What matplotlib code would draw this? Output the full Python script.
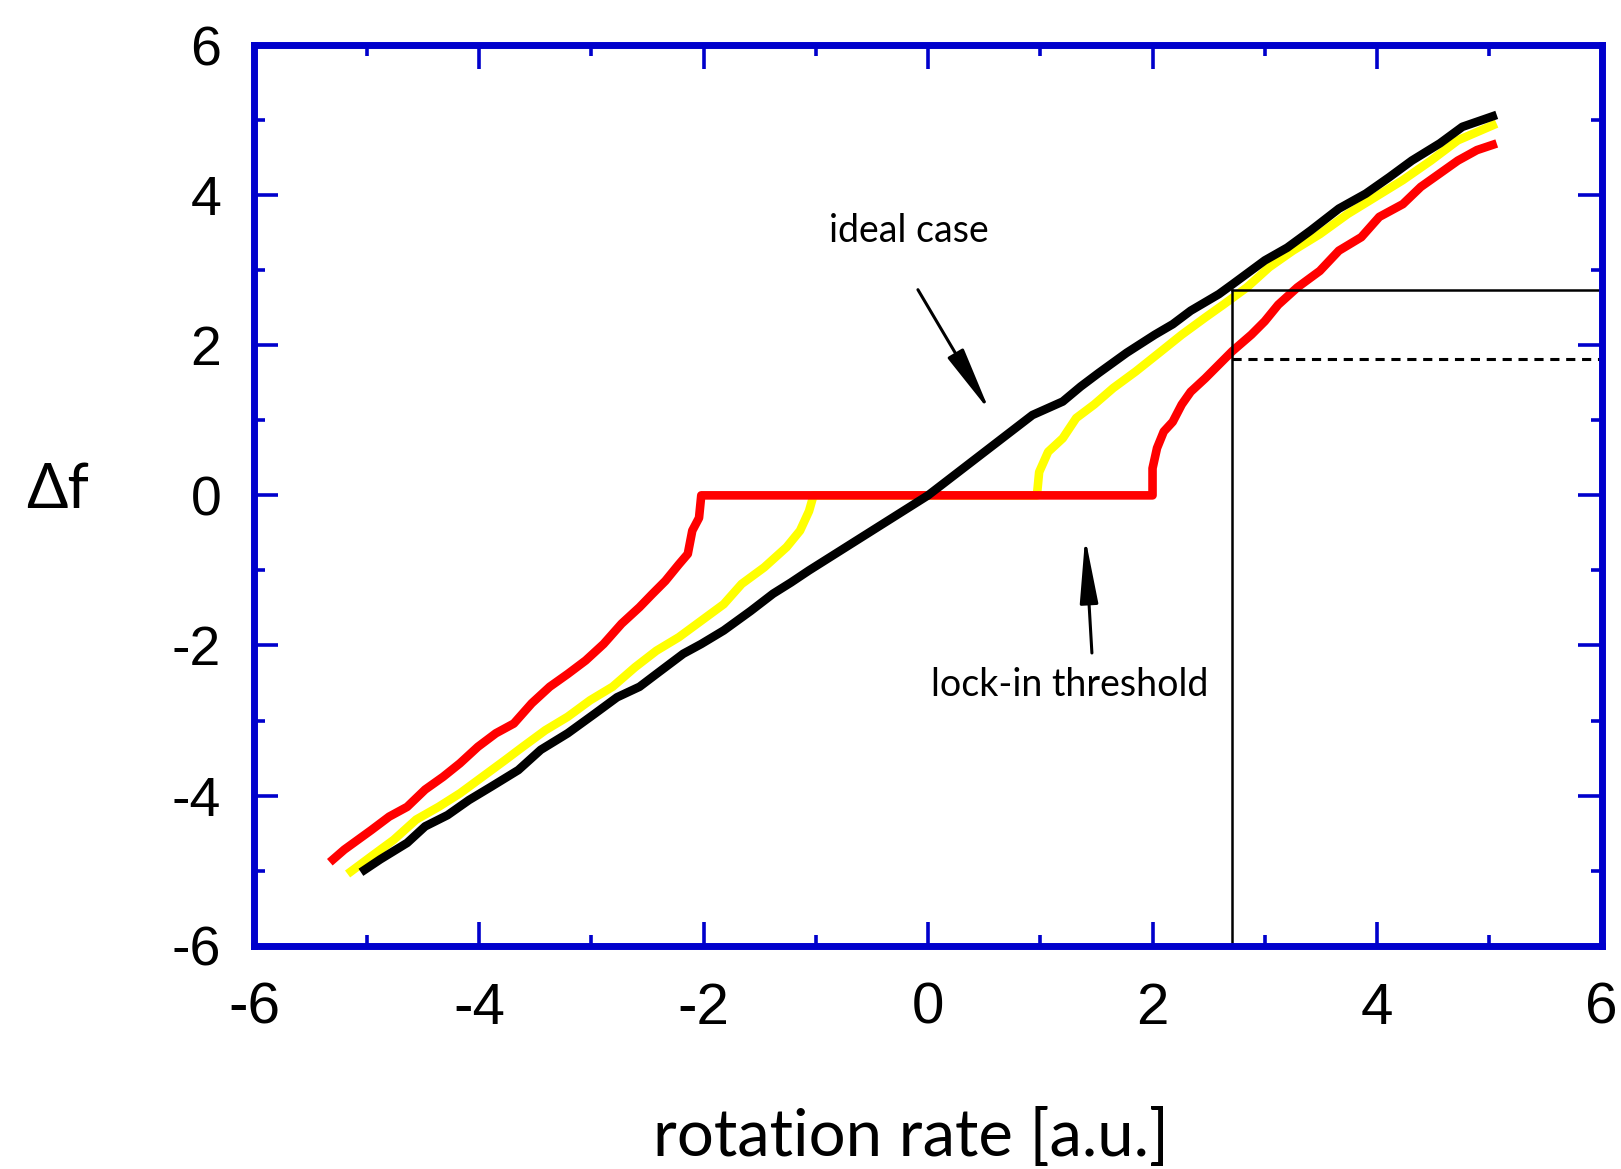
import matplotlib
matplotlib.use("Agg")
import matplotlib.pyplot as plt
from matplotlib.ticker import MultipleLocator

plt.rcParams["axes.unicode_minus"] = False

# beat frequency vs rotation rate
ideal_x = [-5.02, -4.88, -4.64, -4.48, -4.28, -4.09, -3.89, -3.65, -3.45, -3.21,
           -2.97, -2.77, -2.57, -2.42, -2.18, -2.02, -1.82, -1.58, -1.38, -1.22,
           -1.06, 0.0, 0.93, 1.20, 1.36, 1.52, 1.77, 2.02, 2.18, 2.34,
           2.59, 2.71, 3.00, 3.20, 3.41, 3.66, 3.90, 4.11, 4.31, 4.56,
           4.76, 5.03]
ideal_y = [-4.99, -4.85, -4.63, -4.41, -4.26, -4.06, -3.88, -3.66, -3.39, -3.17,
           -2.91, -2.69, -2.55, -2.38, -2.11, -1.98, -1.80, -1.54, -1.31, -1.16,
           -1.00, 0.0, 1.07, 1.25, 1.45, 1.63, 1.90, 2.14, 2.28, 2.46,
           2.68, 2.81, 3.13, 3.30, 3.53, 3.82, 4.02, 4.24, 4.46, 4.69,
           4.91, 5.05]

weak_x = [-5.14, -4.96, -4.76, -4.56, -4.36, -4.17, -3.97, -3.77, -3.61, -3.41,
          -3.21, -3.01, -2.81, -2.61, -2.42, -2.22, -2.02, -1.82, -1.66, -1.46,
          -1.26, -1.14, -1.06, -1.02, 0.97, 0.99, 1.07, 1.20, 1.32, 1.48,
          1.65, 1.85, 2.06, 2.26, 2.47, 2.63, 2.84, 3.04, 3.25, 3.49,
          3.74, 3.98, 4.23, 4.48, 4.72, 5.03]
weak_y = [-5.01, -4.81, -4.59, -4.32, -4.15, -3.97, -3.75, -3.53, -3.35, -3.13,
          -2.95, -2.73, -2.55, -2.29, -2.07, -1.89, -1.67, -1.45, -1.18, -0.96,
          -0.69, -0.47, -0.21, 0.0, 0.0, 0.31, 0.58, 0.76, 1.03, 1.21,
          1.43, 1.65, 1.90, 2.14, 2.37, 2.54, 2.77, 3.04, 3.26, 3.48,
          3.75, 3.97, 4.20, 4.46, 4.73, 4.93]

strong_x = [-5.30, -5.20, -5.08, -4.96, -4.80, -4.64, -4.48, -4.32, -4.17, -4.01,
            -3.85, -3.69, -3.53, -3.37, -3.21, -3.05, -2.89, -2.73, -2.57, -2.46,
            -2.34, -2.22, -2.14, -2.10, -2.04, -2.02, 2.00, 2.00, 2.04, 2.10,
            2.18, 2.26, 2.34, 2.47, 2.59, 2.71, 2.88, 3.00, 3.12, 3.29,
            3.49, 3.66, 3.86, 4.02, 4.23, 4.39, 4.56, 4.72, 4.89, 5.03]
strong_y = [-4.85, -4.72, -4.59, -4.46, -4.28, -4.15, -3.92, -3.75, -3.57, -3.35,
            -3.17, -3.04, -2.77, -2.55, -2.38, -2.20, -1.98, -1.71, -1.49, -1.32,
            -1.14, -0.92, -0.78, -0.47, -0.30, 0.0, 0.0, 0.36, 0.63, 0.85,
            0.98, 1.21, 1.38, 1.56, 1.74, 1.92, 2.14, 2.32, 2.54, 2.77,
            2.99, 3.26, 3.44, 3.71, 3.88, 4.11, 4.29, 4.46, 4.60, 4.67]

# read-out guide lines
rate_mark = 2.705
ideal_level = 2.74
locked_level = 1.82

xticks = [-6, -4, -2, 0, 2, 4, 6]
yticks = [-6, -4, -2, 0, 2, 4, 6]

BLUE = "#0000cc"
HAND = ["Lato", "DejaVu Sans"]

fig = plt.figure(figsize=(16.21, 11.69), dpi=100)
ax = fig.add_axes([0.157, 0.191, 0.988 - 0.157, 0.9615 - 0.191])

ax.plot(weak_x, weak_y, color="#ffff00", lw=6.2, zorder=2)
ax.plot(strong_x, strong_y, color="#ff0000", lw=6.2, zorder=3)
ax.plot(ideal_x, ideal_y, color="black", lw=6.2, zorder=4)

ax.plot([rate_mark, rate_mark], [-6, ideal_level], color="black", lw=1.8, zorder=5)
ax.plot([rate_mark, 6], [ideal_level, ideal_level], color="black", lw=1.8, zorder=5)
ax.plot([rate_mark, 6], [locked_level, locked_level], color="black", lw=2.2,
        ls=(0, (3, 2.2)), zorder=5)

arrow = dict(arrowstyle="-|>,head_length=2.0,head_width=0.28", color="black",
             lw=2.2, mutation_scale=20, shrinkA=0, shrinkB=0)
ax.annotate("", xy=(0.55, 1.12), xytext=(-0.09, 2.74), arrowprops=arrow, zorder=6)
ax.annotate("", xy=(1.40, -0.56), xytext=(1.46, -2.10), arrowprops=arrow, zorder=6)
ax.text(-0.17, 3.52, "ideal case", family=HAND, fontsize=27, ha="center", va="center")
ax.text(1.26, -2.53, "lock-in threshold", family=HAND, fontsize=27,
        ha="center", va="center")

ax.set_xlim(-6, 6)
ax.set_ylim(-6, 6)
ax.set_xticks(xticks)
ax.set_yticks(yticks)
ax.xaxis.set_minor_locator(MultipleLocator(1))
ax.yaxis.set_minor_locator(MultipleLocator(1))
ax.tick_params(which="both", direction="in", top=True, right=True,
               color=BLUE, width=2.6)
ax.tick_params(which="major", length=17)
ax.tick_params(which="minor", length=8)
ax.tick_params(axis="y", labelsize=40, pad=24)
ax.tick_params(axis="x", labelsize=42, pad=26)
for lab in ax.get_xticklabels() + ax.get_yticklabels():
    lab.set_family(["Liberation Sans", "DejaVu Sans"])
for sp in ax.spines.values():
    sp.set_color(BLUE)
    sp.set_linewidth(5)
    sp.set_zorder(7)

ax.set_xlabel("rotation rate [a.u.]", family=HAND, fontsize=47, va="center")
ax.xaxis.set_label_coords(0.487, -0.212)
ax.set_ylabel("\u0394f", family=HAND, fontsize=44, rotation=0,
              ha="center", va="center")
ax.yaxis.set_label_coords(-0.146, 0.505)

fig.savefig("out.png", dpi=100)
